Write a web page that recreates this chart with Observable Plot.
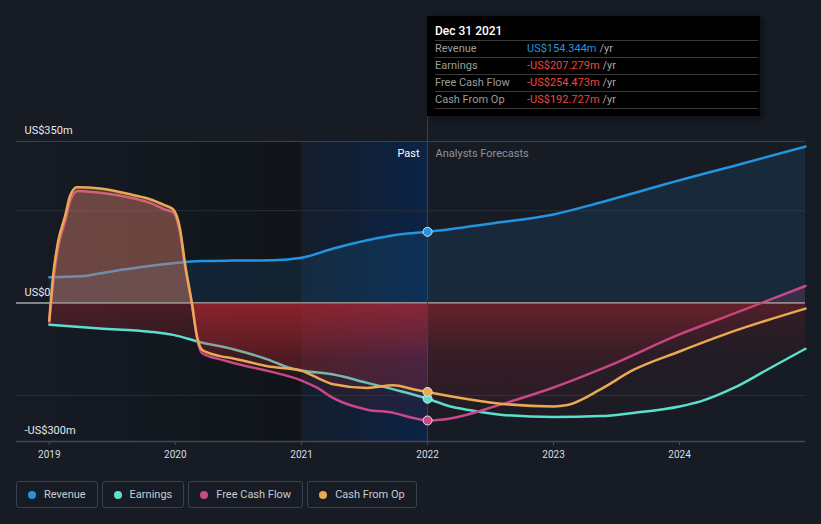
<!DOCTYPE html>
<html>
<head>
<meta charset="utf-8">
<script src="https://cdn.jsdelivr.net/npm/d3@7"></script>
<script src="https://cdn.jsdelivr.net/npm/@observablehq/plot@0.6"></script>
<style>
  html, body { margin: 0; padding: 0; background: #161b24; }
  #wrap { position: relative; width: 821px; height: 524px; overflow: hidden; font-family: Roboto, "Noto Sans", sans-serif; }
  #chart { position: absolute; left: 0; top: 0; }
  #chart g[aria-label="x-axis tick"] { stroke: #4a505b; }
  #tip { position: absolute; left: 427px; top: 16px; width: 333px; height: 100px; background: #000; box-sizing: border-box; padding: 6px 2px 0 8px; box-shadow: 2px 2px 6px rgba(0,0,0,0.45); }
  #tip .title { height: 18px; line-height: 18px; font-size: 12px; color: #fff; font-weight: 500; }
  #tip .row { border-top: 1px solid #3a3a3a; height: 16px; line-height: 16px; font-size: 11px; display: flex; }
  #tip .row:last-child { border-bottom: 1px solid #3a3a3a; }
  #tip .lab { width: 92px; color: #9c9c9c; }
  #tip .unit { color: #a8a8a8; margin-left: 3px; }
  #legend { position: absolute; left: 16px; top: 481px; display: flex; gap: 4px; }
  #legend .item { box-sizing: border-box; height: 27px; border: 1px solid #3b414c; border-radius: 3px; display: flex; align-items: center; padding: 0 11px 0 11px; font-size: 11px; color: #c7ccd3; }
  #legend .dot { width: 8px; height: 8px; border-radius: 50%; margin-right: 8px; }
</style>
</head>
<body>
<div id="wrap">
  <div id="chart"></div>
  <div id="tip"></div>
  <div id="legend"></div>
</div>
<script>
// ---------- data ----------
const seriesNames = ["Revenue", "Earnings", "Free Cash Flow", "Cash From Op"];
const seriesColors = ["#2394df", "#5ce0cd", "#c9488a", "#e9aa52"];

const revenue = [
  ["2019-01-01", 56], ["2019-04-01", 58], ["2019-06-26", 68], ["2019-10-19", 80],
  ["2019-12-26", 86], ["2020-03-14", 91], ["2020-06-17", 92], ["2020-10-10", 92.5],
  ["2021-01-01", 98], ["2021-04-03", 118], ["2021-07-10", 136], ["2021-10-15", 149],
  ["2022-01-01", 154.344], ["2022-07-01", 172], ["2023-01-01", 192], ["2023-05-17", 218],
  ["2024-01-01", 266], ["2024-06-06", 297], ["2024-12-31", 339]
];
const earnings = [
  ["2019-01-01", -47], ["2019-05-27", -55], ["2019-10-19", -62], ["2019-12-26", -69],
  ["2020-03-14", -85], ["2020-06-17", -100], ["2020-09-24", -122], ["2020-11-26", -140],
  ["2021-01-01", -146], ["2021-04-03", -155], ["2021-07-10", -173], ["2021-10-15", -191],
  ["2022-01-01", -207.279], ["2022-03-08", -224], ["2022-04-25", -231], ["2022-07-31", -242],
  ["2023-01-01", -247], ["2023-05-17", -245], ["2023-08-20", -238], ["2024-01-01", -224],
  ["2024-03-02", -213], ["2024-06-06", -184], ["2024-09-12", -144], ["2024-12-31", -99]
];
const freeCashFlow = [
  ["2019-01-01", -42], ["2019-01-13", 50], ["2019-01-27", 122], ["2019-02-17", 180],
  ["2019-03-03", 222], ["2019-03-24", 243], ["2019-05-28", 239], ["2019-09-01", 227],
  ["2019-10-20", 217], ["2019-12-01", 203], ["2019-12-26", 196], ["2020-01-15", 152],
  ["2020-01-29", 80], ["2020-02-19", -5], ["2020-03-05", -80], ["2020-03-18", -108],
  ["2020-04-06", -115], ["2020-05-10", -122], ["2020-06-17", -130], ["2020-09-24", -147],
  ["2021-01-01", -168], ["2021-02-16", -184], ["2021-04-03", -206], ["2021-07-10", -231],
  ["2021-09-24", -238], ["2021-11-20", -249], ["2022-01-01", -254.473], ["2022-03-08", -250],
  ["2022-07-31", -220], ["2023-01-01", -183], ["2023-06-01", -139], ["2024-01-01", -68],
  ["2024-06-06", -23], ["2024-12-31", 37]
];
const cashFromOp = [
  ["2019-01-01", -38], ["2019-01-12", 59], ["2019-01-26", 131], ["2019-02-16", 189],
  ["2019-03-02", 232], ["2019-03-22", 251], ["2019-05-28", 248], ["2019-09-01", 234],
  ["2019-10-20", 225], ["2019-12-01", 212], ["2019-12-26", 203], ["2020-01-15", 160],
  ["2020-01-29", 87], ["2020-02-18", 0], ["2020-03-04", -72], ["2020-03-18", -101],
  ["2020-04-06", -108], ["2020-05-10", -115], ["2020-06-17", -120], ["2020-09-24", -137],
  ["2021-01-01", -147], ["2021-02-16", -162], ["2021-04-03", -176], ["2021-07-10", -184],
  ["2021-09-24", -178], ["2021-11-20", -187], ["2022-01-01", -192.727], ["2022-03-08", -202],
  ["2022-07-31", -218], ["2023-01-01", -224], ["2023-02-10", -221], ["2023-05-17", -187],
  ["2023-08-20", -145], ["2024-01-01", -105], ["2024-06-06", -61], ["2024-12-31", -12]
];

const yDomain = [-300, 350];
const yTickValues = [350, 0, -300];
const yTickLabels = ["US$350m", "US$0", "-US$300m"];
const gridValues = [200, -200];
const xTickYears = [2019, 2020, 2021, 2022, 2023, 2024];
const domainStart = "2018-09-28";
const domainEnd = "2024-12-31";
const pastStart = "2021-01-01";
const splitDate = "2022-01-01";
const tooltipTitle = "Dec 31 2021";
const sectionLabels = ["Past", "Analysts Forecasts"];
const cursorTop = 403; // value where the hover rule meets the tooltip

// ---------- build ----------
const parse = d3.utcParse("%Y-%m-%d");
const split = parse(splitDate);
const rowsOf = (arr, name) => arr.map(([d, v]) => ({date: parse(d), value: v, series: name}));
const all = [revenue, earnings, freeCashFlow, cashFromOp].map((a, i) => rowsOf(a, seriesNames[i]));
const markers = all.map((rows, i) => ({...rows.find(d => +d.date === +split), color: seriesColors[i]}));

const marks = [];
marks.push(Plot.rect([{x1: parse(domainStart), x2: parse(pastStart)}], {x1: "x1", x2: "x2", y1: yDomain[0], y2: yDomain[1], fill: "url(#gDark)"}));
marks.push(Plot.rect([{x1: parse(pastStart), x2: split}], {x1: "x1", x2: "x2", y1: yDomain[0], y2: yDomain[1], fill: "url(#gPast)"}));
marks.push(Plot.ruleY(gridValues, {stroke: "#2a2f39", strokeWidth: 1}));
marks.push(Plot.ruleY([yDomain[1]], {stroke: "#3b404a", strokeWidth: 1}));
marks.push(Plot.ruleY([yDomain[0]], {stroke: "#414753", strokeWidth: 1.5}));

// revenue
marks.push(Plot.area(all[0], {x1: "date", y1: 0, y2: "value", curve: "monotone-x", fill: seriesColors[0], fillOpacity: 0.12}));
marks.push(Plot.line(all[0], {x: "date", y: "value", curve: "monotone-x", stroke: seriesColors[0], strokeWidth: 2.5}));
marks.push(Plot.ruleY([0], {stroke: "#a9a9ad", strokeWidth: 1.5}));

for (let i = 1; i < 4; i++) {
  const rows = all[i];
  marks.push(Plot.area(rows.filter(d => d.date <= split), {x1: "date", y1: 0, y2: "value", curve: "monotone-x", fill: `url(#gP${i})`}));
  marks.push(Plot.area(rows.filter(d => d.date >= split), {x1: "date", y1: 0, y2: "value", curve: "monotone-x", fill: `url(#gF${i})`}));
  marks.push(Plot.line(rows, {x: "date", y: "value", curve: "monotone-x", stroke: seriesColors[i], strokeWidth: 2.5}));
}

marks.push(Plot.ruleX([split], {y1: yDomain[0], y2: cursorTop, stroke: "#2a4676", strokeWidth: 1}));
marks.push(Plot.dot(markers, {x: "date", y: "value", fill: "color", r: 4.5, stroke: "#dfe3ea", strokeWidth: 1}));

marks.push(Plot.text(yTickValues.map((v, i) => ({v, t: yTickLabels[i]})), {
  y: "v", text: "t", frameAnchor: "left", dx: 8, dy: -11, textAnchor: "start", lineAnchor: "middle",
  fill: "#e6e8eb", fontSize: 11
}));
marks.push(Plot.text([{d: split, t: sectionLabels[0]}], {x: "d", y: yDomain[1], text: "t", dx: -8, dy: 12, textAnchor: "end", lineAnchor: "middle", fill: "#ffffff", fontSize: 11}));
marks.push(Plot.text([{d: split, t: sectionLabels[1]}], {x: "d", y: yDomain[1], text: "t", dx: 8, dy: 12, textAnchor: "start", lineAnchor: "middle", fill: "#8d939c", fontSize: 11}));

const plot = Plot.plot({
  width: 821,
  height: 470,
  marginLeft: 16,
  marginRight: 16,
  marginTop: 141,
  marginBottom: 29,
  style: {background: "transparent", color: "#dadde2", fontFamily: "Roboto, 'Noto Sans', sans-serif"},
  x: {type: "utc", domain: [parse(domainStart), parse(domainEnd)], ticks: xTickYears.map(y => new Date(Date.UTC(y, 0, 1))), tickFormat: d3.utcFormat("%Y"), tickSize: 4, tickPadding: 5, label: null, fontSize: 11},
  y: {domain: yDomain, axis: null},
  marks
});
document.getElementById("chart").appendChild(plot);

// gradients
const ys = plot.scale("y");
const yTopPx = ys.apply(yDomain[1]), yBottomPx = ys.apply(yDomain[0]), yZeroPx = ys.apply(0);
const f = (yZeroPx - yTopPx) / (yBottomPx - yTopPx);
const defs = d3.select(plot).insert("defs", ":first-child");
function lin(id, attrs, stops) {
  const g = defs.append("linearGradient").attr("id", id);
  for (const k in attrs) g.attr(k, attrs[k]);
  for (const [o, c, a] of stops) g.append("stop").attr("offset", o).attr("stop-color", c).attr("stop-opacity", a);
}
lin("gDark", {x1: 0, x2: 1, y1: 0, y2: 0}, [[0, "#000", 0], [1, "#000", 0.28]]);
lin("gPast", {x1: 0, x2: 1, y1: 0, y2: 0}, [[0, "#05285a", 0.12], [1, "#05285a", 0.62]]);
const red = "#c82832";
const mid = f + 0.4 * (1 - f);
for (let i = 1; i < 4; i++) {
  const uso = {gradientUnits: "userSpaceOnUse", x1: 0, x2: 0, y1: yTopPx, y2: yBottomPx};
  lin(`gP${i}`, uso, [[0, seriesColors[i], 0.25], [f, seriesColors[i], 0.25], [f, red, 0.3], [mid, red, 0.13], [1, red, 0.06]]);
  lin(`gF${i}`, uso, [[0, seriesColors[i], 0.18], [f, seriesColors[i], 0.18], [f, red, 0.18], [mid, red, 0.06], [1, red, 0.02]]);
}

// tooltip
const fmt = v => (v < 0 ? "-" : "") + "US$" + Math.abs(v).toFixed(3) + "m";
const tip = d3.select("#tip");
tip.append("div").attr("class", "title").text(tooltipTitle);
markers.forEach((m, i) => {
  const r = tip.append("div").attr("class", "row");
  r.append("span").attr("class", "lab").text(seriesNames[i]);
  r.append("span").style("color", m.value < 0 ? "#f0453f" : seriesColors[i]).text(fmt(m.value));
  r.append("span").attr("class", "unit").text("/yr");
});

// legend
const lg = d3.select("#legend");
seriesNames.forEach((n, i) => {
  const it = lg.append("div").attr("class", "item");
  it.append("span").attr("class", "dot").style("background", seriesColors[i]);
  it.append("span").text(n);
});
</script>
</body>
</html>
